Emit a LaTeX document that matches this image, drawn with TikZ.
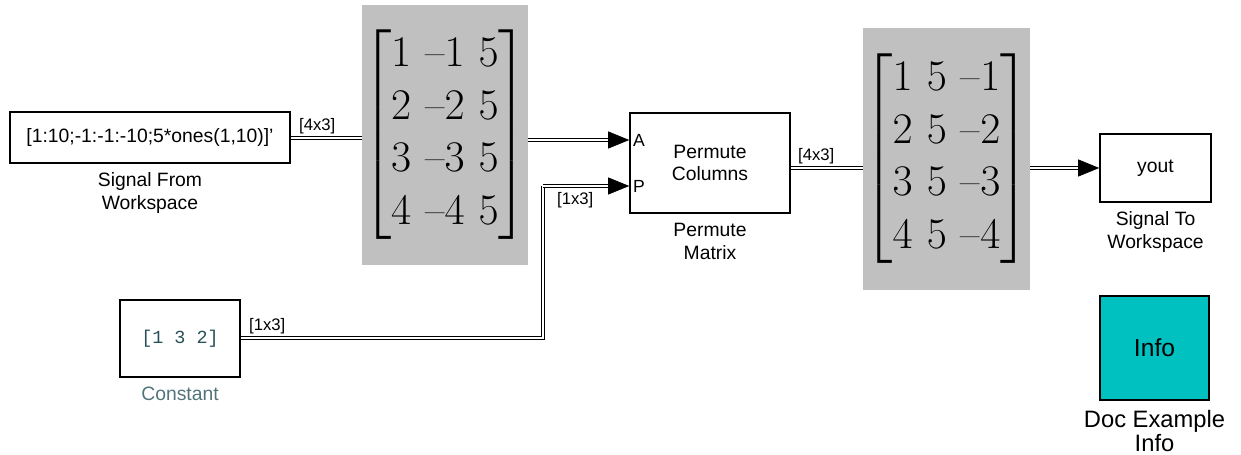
\documentclass[tikz,border=0pt]{standalone}
\usepackage{amsmath}
\usepackage[no-math]{fontspec}
\setmainfont{Liberation Sans}
\newfontfamily\consttt{Liberation Mono}
\newfontfamily\matfont{Latin Modern Roman}
\usetikzlibrary{positioning, arrows.meta, calc}
\definecolor{displaygray}{RGB}{192,192,192}
\definecolor{infocyan}{RGB}{0,192,192}
\definecolor{constink}{RGB}{40,80,90}
\newcommand\dm{\text{\matfont –}} % short minus of the displays
\tikzset{
    block/.style={draw, line width=0.9pt, fill=white, align=center, font=\fontsize{11}{13}\selectfont}, % simulink blocks
    display/.style={fill=displaygray, inner sep=0pt, font=\fontsize{24}{30}\selectfont}, % gray value displays
    caption/.style={align=center, font=\fontsize{11}{13}\selectfont, inner sep=1pt}, % names under the blocks
    dims/.style={font=\fontsize{9.5}{10}\selectfont, inner sep=1pt}, % signal sizes
    port/.style={font=\fontsize{10}{12}\selectfont, inner sep=2pt, anchor=west}, % input port names
}
\tikzstyle{bus} = [double, line width=0.6pt, double distance=1.1pt]
\tikzstyle{busend} = [bus, shorten >=0.38cm]
\tikzstyle{tip} = [draw=white, line width=0.4pt, -{Triangle[length=0.42cm, width=0.34cm, line width=0.4pt, color=black, fill=black]}]

\begin{document}
\begin{tikzpicture}[x=0.02cm, y=-0.02cm]
    \useasboundingbox (0,0) rectangle (1241,455);

    \node[block, minimum width=5.6cm, minimum height=1.02cm] (src) at (150,137.5) {[1:10;-1:-1:-10;5*ones(1,10)]'};
    \node[display, minimum width=3.32cm, minimum height=5.2cm] (mat1) at (445,135)
        {\setlength\arraycolsep{4pt}$\begin{bmatrix}1&\dm1&5\\2&\dm2&5\\3&\dm3&5\\4&\dm4&5\end{bmatrix}$};
    \node[block, minimum width=3.2cm, minimum height=2cm] (perm) at (710,163) {Permute\\Columns};
    \node[port] (portA) at (perm.west |- 0,140) {A};
    \node[port] (portP) at (perm.west |- 0,186) {P};
    \node[display, minimum width=3.34cm, minimum height=5.24cm] (mat2) at (946.5,159)
        {\setlength\arraycolsep{4pt}$\begin{bmatrix}1&5&\dm1\\2&5&\dm2\\3&5&\dm3\\4&5&\dm4\end{bmatrix}$};
    \node[block, minimum width=2.22cm, minimum height=1.36cm] (yout) at (1155.5,168) {yout};
    \node[block, minimum width=2.4cm, minimum height=1.54cm, font=\consttt\fontsize{10.5}{12}\selectfont, text=constink] (const) at (180,338.5) {[1 3 2]};
    \node[block, fill=infocyan, minimum width=2.18cm, minimum height=2.08cm, font=\fontsize{14}{16}\selectfont] (info) at (1154.5,348) {Info};

    % names
    \node[caption, below=4pt of src] {Signal From\\Workspace};
    \node[caption, below=4pt of perm] {Permute\\Matrix};
    \node[caption, below=4pt of yout] {Signal To\\Workspace};
    \node[caption, below=4pt of const, text=constink!80] {Constant};
    \node[caption, below=4pt of info, font=\fontsize{13.5}{14}\selectfont] {Doc Example\\Info};

    % signals
    \coordinate (bend) at (543,338);
    \draw[bus] (src.east |- 0,138) -- (mat1.west |- 0,138);
    \draw[busend] (mat1.east |- portA.west) -- (portA.west);
    \draw[tip] (mat1.east |- portA.west) -- (portA.west);
    \draw[bus] (const.east |- bend) -- (bend) -- (bend |- portP.west);
    \draw[busend] (bend |- portP.west) -- (portP.west);
    \draw[tip] (bend |- portP.west) -- (portP.west);
    \draw[bus] (perm.east |- yout) -- (mat2.west |- yout);
    \draw[busend] (mat2.east |- yout.west) -- (yout.west);
    \draw[tip] (mat2.east |- yout.west) -- (yout.west);

    \node[dims, anchor=south west] at (297,136) {[4x3]};
    \node[dims, anchor=north west] at (555,190) {[1x3]};
    \node[dims, anchor=south west] at (247,336) {[1x3]};
    \node[dims, anchor=south west] at (796,166) {[4x3]};
\end{tikzpicture}
\end{document}
